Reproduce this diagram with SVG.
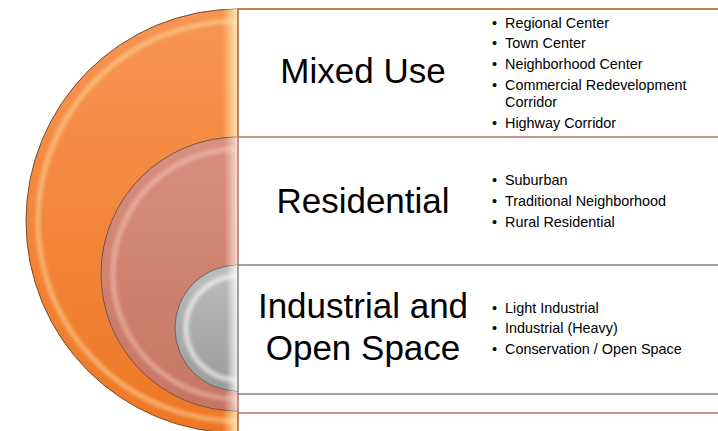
<svg xmlns="http://www.w3.org/2000/svg" width="718" height="431" viewBox="0 0 718 431">
<style>
.big{font-family:"Liberation Sans",Arial,sans-serif;font-size:35px;fill:#000;text-anchor:middle}
.li{font-family:"Liberation Sans",Arial,sans-serif;font-size:14.4px;fill:#000}
.box{fill:#fff;stroke-width:1.6}
.hl{fill:none;filter:url(#blur)}
</style>
<defs>
<filter id="blur" x="-20%" y="-20%" width="140%" height="140%"><feGaussianBlur stdDeviation="2"/></filter>
<linearGradient id="gOr" x1="0" y1="0" x2="0" y2="1">
<stop offset="0" stop-color="#F89552"/><stop offset="1" stop-color="#EE7725"/>
</linearGradient>
<linearGradient id="gRe" x1="0" y1="0" x2="0" y2="1">
<stop offset="0" stop-color="#D8907F"/><stop offset="1" stop-color="#C67562"/>
</linearGradient>
<linearGradient id="gGr" x1="0" y1="0" x2="0" y2="1">
<stop offset="0" stop-color="#BDBDBD"/><stop offset="1" stop-color="#9B9B9B"/>
</linearGradient>
<linearGradient id="edgeO" x1="0" y1="0" x2="1" y2="0">
<stop offset="0" stop-color="#FFE9B0" stop-opacity="0"/><stop offset="1" stop-color="#FFF0C0" stop-opacity="0.95"/>
</linearGradient>
<linearGradient id="edgeR" x1="0" y1="0" x2="1" y2="0">
<stop offset="0" stop-color="#FFE0D6" stop-opacity="0"/><stop offset="1" stop-color="#FFE8E0" stop-opacity="0.9"/>
</linearGradient>
<linearGradient id="edgeG" x1="0" y1="0" x2="1" y2="0">
<stop offset="0" stop-color="#FFFFFF" stop-opacity="0"/><stop offset="1" stop-color="#FFFFFF" stop-opacity="0.9"/>
</linearGradient>
<linearGradient id="boxO" x1="0" y1="0" x2="1" y2="0">
<stop offset="0" stop-color="#FFF6EE"/><stop offset="0.15" stop-color="#FFFFFF"/>
</linearGradient>
<clipPath id="cO"><path d="M238,9 A212,212 0 0 0 238,433 Z"/></clipPath>
<clipPath id="cR"><path d="M238,137 A137,137 0 0 0 238,411 Z"/></clipPath>
<clipPath id="cG"><path d="M238,265 A63,63 0 0 0 238,391 Z"/></clipPath>
</defs>

<g id="mixed-use">
<path d="M238,9 A212,212 0 0 0 238,433 Z" fill="url(#gOr)" stroke="#7A4A2E" stroke-width="1"/>
<g clip-path="url(#cO)">
<path class="hl" d="M238,21 A200,200 0 0 0 238,421" stroke="#FFE3A8" stroke-width="3" opacity="0.85"/>
<rect x="222" y="9" width="16" height="424" fill="url(#edgeO)"/>
</g>
<rect class="box" x="238" y="9" width="490" height="430" fill="url(#boxO)" stroke="#B5622E"/>
<text class="big" x="363" y="83">Mixed Use</text>
<g class="li">
<text x="492" y="28">•</text><text x="505" y="28">Regional Center</text>
<text x="492" y="48">•</text><text x="505" y="48">Town Center</text>
<text x="492" y="69">•</text><text x="505" y="69">Neighborhood Center</text>
<text x="492" y="90">•</text><text x="505" y="90">Commercial Redevelopment</text>
<text x="505" y="107">Corridor</text>
<text x="492" y="128">•</text><text x="505" y="128">Highway Corridor</text>
</g>
</g>

<g id="residential">
<path d="M238,137 A137,137 0 0 0 238,411 Z" fill="url(#gRe)" stroke="#6E5550" stroke-width="1"/>
<g clip-path="url(#cR)">
<path class="hl" d="M238,149 A125,125 0 0 0 238,399" stroke="#FFD8CC" stroke-width="3" opacity="0.75"/>
<rect x="224" y="137" width="14" height="274" fill="url(#edgeR)"/>
</g>
<rect class="box" x="238" y="137" width="490" height="276" stroke="#B87A70"/>
<text class="big" x="363" y="213">Residential</text>
<g class="li">
<text x="492" y="185">•</text><text x="505" y="185">Suburban</text>
<text x="492" y="206">•</text><text x="505" y="206">Traditional Neighborhood</text>
<text x="492" y="227">•</text><text x="505" y="227">Rural Residential</text>
</g>
</g>

<g id="industrial-open-space">
<path d="M238,265 A63,63 0 0 0 238,391 Z" fill="url(#gGr)" stroke="#666" stroke-width="1"/>
<g clip-path="url(#cG)">
<path class="hl" d="M238,276 A52,52 0 0 0 238,380" stroke="#FFFFFF" stroke-width="3.5" opacity="0.9"/>
<rect x="226" y="265" width="12" height="126" fill="url(#edgeG)"/>
</g>
<rect class="box" x="238" y="265" width="490" height="129" stroke="#8A8A8A"/>
<text class="big" x="363" y="318">Industrial and</text>
<text class="big" x="363" y="360">Open Space</text>
<g class="li">
<text x="492" y="313">•</text><text x="505" y="313">Light Industrial</text>
<text x="492" y="333">•</text><text x="505" y="333">Industrial (Heavy)</text>
<text x="492" y="354">•</text><text x="505" y="354">Conservation / Open Space</text>
</g>
</g>

<g id="connectors"></g>
</svg>
